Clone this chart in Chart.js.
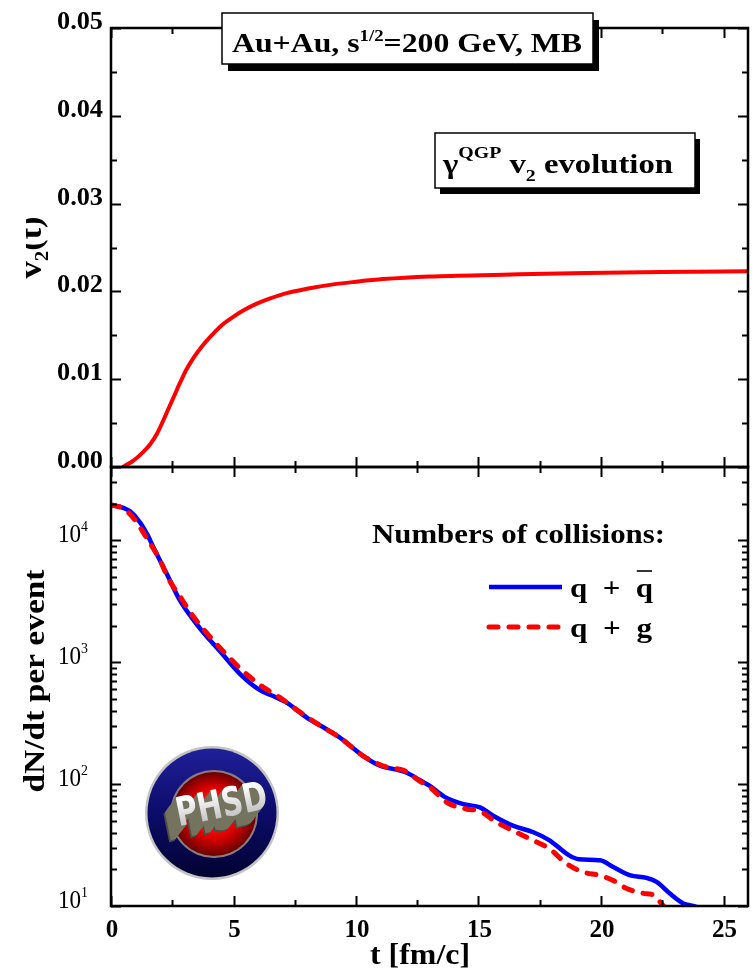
<!DOCTYPE html>
<html><head><meta charset="utf-8">
<script src="https://cdn.jsdelivr.net/npm/chart.js@4/dist/chart.umd.min.js"></script>
<style>
html,body{margin:0;padding:0;background:#fff;}
#wrap{position:relative;width:756px;height:972px;overflow:hidden;}
canvas{position:absolute;left:0;top:0;}
</style></head><body>
<div id="wrap"><canvas id="cTop" width="756" height="972"></canvas><canvas id="cBot" width="756" height="972"></canvas></div>
<script>
// ---------- data ----------
const tV2 = [0.48, 0.9, 1.31, 1.6, 1.86, 2.1, 2.34, 2.58, 2.82, 3.08, 3.36, 3.7, 4.04, 4.5, 4.99, 5.45, 5.95, 6.5, 7.17, 8.0, 9.07, 10.0, 11.1, 13.0, 16.0, 19.4, 22.5, 26.0];
const v2  = [0, 0.0007, 0.0017, 0.0026, 0.0037, 0.0051, 0.0066, 0.0081, 0.0096, 0.0111, 0.0124, 0.0137, 0.0148, 0.0161, 0.0171, 0.0179, 0.0186, 0.0192, 0.0198, 0.0203, 0.0208, 0.0211, 0.0214, 0.0217, 0.0219, 0.0221, 0.0222, 0.0223];

const tQQ = [0, 0.5, 0.78, 1.18, 1.5, 1.73, 2.27, 2.82, 3.63, 4.45, 5.27, 6.08, 6.62, 7.17, 7.99, 8.8, 9.35, 10.3, 11.0, 11.6, 12.07, 12.6, 13.0, 13.6, 14.38, 15.06, 15.6, 16.4, 17.24, 17.9, 18.7, 19.1, 19.96, 20.5, 21.2, 21.86, 22.27, 22.8, 23.36, 23.77, 24.3];
const nQQ = [19500, 18500, 17300, 14100, 11000, 8800, 5350, 3200, 1900, 1230, 800, 590, 528, 466, 352, 282, 240, 170, 141, 132, 124, 108, 97, 79, 68.5, 64.5, 55, 45.6, 40.3, 34.6, 26, 24.2, 23.7, 20.9, 17.8, 17.0, 15.8, 12.7, 10.5, 10, 9.3];

const tQG = [0, 0.5, 0.91, 1.52, 2.0, 2.34, 2.82, 3.36, 3.97, 4.65, 5.4, 6.15, 6.9, 7.65, 8.46, 9.35, 10.3, 11.25, 11.94, 12.6, 13.0, 13.7, 14.5, 15.06, 15.74, 16.4, 17.24, 17.9, 18.6, 19.27, 19.96, 20.5, 21.05, 21.73, 22.14, 22.55, 22.9];
const nQG = [19500, 18300, 15300, 10000, 6870, 4880, 3450, 2370, 1680, 1190, 843, 637, 512, 398, 309, 240, 170, 138, 130, 106, 95, 71, 62.5, 60, 48.5, 41.6, 34.5, 29.5, 22.2, 19, 17.8, 16.2, 13.9, 12.7, 12.3, 10, 8.5];

const seriesLabels = ['q + q\u0304', 'q + g'];

const xMajorTicks = [0, 5, 10, 15, 20, 25];
const xTickLabels = ['0', '5', '10', '15', '20', '25'];
const xMinorTicks = [2.5, 7.5, 12.5, 17.5, 22.5];
const v2MajorTicks = [0, 0.01, 0.02, 0.03, 0.04, 0.05];
const v2TickLabels = ['0.00', '0.01', '0.02', '0.03', '0.04', '0.05'];
const v2MinorTicks = [0.005, 0.015, 0.025, 0.035, 0.045];
const logMajorTicks = [10, 100, 1000, 10000];
const logTickExponents = ['1', '2', '3', '4'];
const logMinorTicks = [20,30,40,50,60,70,80,90,200,300,400,500,600,700,800,900,2000,3000,4000,5000,6000,7000,8000,9000,20000,30000];

// ---------- helpers ----------
const SERIF = '"Liberation Serif","Times New Roman",serif';
const B = s => 'bold ' + s + 'px ' + SERIF;
const R = s => s + 'px ' + SERIF;

// draws mixed-size text; optional targetW stretches horizontally to that width
function rich(ctx, parts, x, y, align, targetW) {
  let w = 0;
  parts.forEach(p => { ctx.font = p.f; p.w = ctx.measureText(p.t).width; w += p.w; });
  const sx = targetW ? targetW / w : 1;
  const W = w * sx;
  const x0 = align === 'center' ? x - W / 2 : align === 'right' ? x - W : x;
  ctx.save();
  ctx.translate(x0, y);
  ctx.scale(sx, 1);
  ctx.textAlign = 'left';
  let cx = 0;
  parts.forEach(p => { ctx.font = p.f; ctx.fillText(p.t, cx, p.dy || 0); p.x = x0 + cx * sx; p.sw = p.w * sx; cx += p.w; });
  ctx.restore();
  return W;
}

function frameAndTicks(chart, xMaj, xMin, yMaj, yMin) {
  const {ctx, chartArea: a, scales: {x, y}} = chart;
  ctx.save();
  ctx.strokeStyle = '#000';
  ctx.lineWidth = 2;
  ctx.beginPath();
  const xt = (vals, len) => vals.forEach(v => {
    const p = Math.round(x.getPixelForValue(v)) + 0.5;
    ctx.moveTo(p, a.bottom); ctx.lineTo(p, a.bottom - len);
    ctx.moveTo(p, a.top); ctx.lineTo(p, a.top + len);
  });
  const yt = (vals, len) => vals.forEach(v => {
    const p = Math.round(y.getPixelForValue(v)) + 0.5;
    ctx.moveTo(a.left, p); ctx.lineTo(a.left + len, p);
    ctx.moveTo(a.right, p); ctx.lineTo(a.right - len, p);
  });
  xt(xMaj, 10); xt(xMin, 6); yt(yMaj, 10); yt(yMin, 6);
  ctx.stroke();
  ctx.lineWidth = 2.5;
  ctx.strokeRect(a.left, a.top, a.right - a.left, a.bottom - a.top);
  ctx.restore();
}

function shadowBox(ctx, x, y, w, h, dx, dy) {
  ctx.fillStyle = '#000';
  ctx.fillRect(x + dx, y + dy, w, h);
  ctx.fillStyle = '#fff';
  ctx.fillRect(x, y, w, h);
  ctx.strokeStyle = '#000';
  ctx.lineWidth = 1.5;
  ctx.strokeRect(x, y, w, h);
}

function drawLogo(ctx, cx, cy) {
  ctx.save();
  ctx.beginPath(); ctx.arc(cx, cy, 67, 0, Math.PI * 2); ctx.fillStyle = '#c4c4c4'; ctx.fill();
  let g = ctx.createLinearGradient(cx, cy - 65, cx, cy + 65);
  g.addColorStop(0, '#20209a'); g.addColorStop(0.5, '#0c0c6a'); g.addColorStop(1, '#020230');
  ctx.beginPath(); ctx.arc(cx, cy, 64.5, 0, Math.PI * 2); ctx.fillStyle = g; ctx.fill();
  ctx.beginPath(); ctx.arc(cx + 2, cy + 1, 44, 0, Math.PI * 2); ctx.fillStyle = '#8c7c80'; ctx.fill();
  g = ctx.createRadialGradient(cx + 2, cy - 2, 4, cx + 2, cy + 1, 42);
  g.addColorStop(0, '#ff3030'); g.addColorStop(0.55, '#e00000'); g.addColorStop(1, '#6a0000');
  ctx.beginPath(); ctx.arc(cx + 2, cy + 1, 42, 0, Math.PI * 2); ctx.fillStyle = g; ctx.fill();
  ctx.translate(cx + 10, cy - 6);
  ctx.rotate(-0.2);
  ctx.scale(0.74, 1);
  ctx.font = 'bold 40px "DejaVu Sans"';
  ctx.textAlign = 'center'; ctx.textBaseline = 'middle';
  for (let k = 16; k >= 1; k--) { ctx.fillStyle = k > 14 ? '#4e4e44' : '#74745f'; ctx.fillText('PHSD', -k * 1.3, k * 0.85); }
  g = ctx.createLinearGradient(0, -16, 0, 16); g.addColorStop(0, '#ffffff'); g.addColorStop(1, '#b8b8b8');
  ctx.fillStyle = g; ctx.fillText('PHSD', 0, 0);
  ctx.restore();
}

// ---------- top panel ----------
const topPlugin = {
  id: 'topDeco',
  afterDatasetsDraw(chart) {
    const {ctx, chartArea: a, scales: {y}} = chart;
    frameAndTicks(chart, xMajorTicks, xMinorTicks, v2MajorTicks, v2MinorTicks);
    ctx.save();
    ctx.fillStyle = '#000';
    ctx.textBaseline = 'alphabetic';
    v2MajorTicks.forEach((v, i) => rich(ctx, [{t: v2TickLabels[i], f: B(25)}], a.left - 8, y.getPixelForValue(v) + 1, 'right', 46));
    // y title (partially hidden as in the reference)
    ctx.save();
    ctx.beginPath(); ctx.rect(26, a.top, 60, a.bottom - a.top); ctx.clip();
    ctx.translate(41, (a.top + a.bottom) / 2);
    ctx.rotate(-Math.PI / 2);
    ctx.fillStyle = '#000';
    rich(ctx, [{t: 'v', f: B(31)}, {t: '2', f: B(19), dy: 7}, {t: '(t)', f: B(31)}], 0, 0, 'center', 62);
    ctx.restore();
    // annotation boxes
    shadowBox(ctx, 222, 13, 371, 51, 6, 7);
    ctx.fillStyle = '#000';
    rich(ctx, [{t: 'Au+Au, s', f: B(27)}, {t: '1/2', f: B(16), dy: -11}, {t: '=200 GeV, MB', f: B(27)}], 407, 52, 'center', 350);
    shadowBox(ctx, 435, 133, 260, 55, 5, 6);
    ctx.fillStyle = '#000';
    rich(ctx, [{t: '\u03B3', f: B(28)}, {t: 'QGP', f: B(17), dy: -15}, {t: ' v', f: B(28)}, {t: '2', f: B(17), dy: 8}, {t: ' evolution', f: B(28)}], 443, 173, 'left', 230);
    ctx.restore();
  }
};

new Chart(document.getElementById('cTop'), {
  type: 'line',
  data: {
    datasets: [{
      label: 'v2(t)',
      data: tV2.map((t, i) => ({x: t, y: v2[i]})),
      borderColor: '#ff0000', borderWidth: 4, pointRadius: 0, fill: false,
      cubicInterpolationMode: 'monotone'
    }]
  },
  options: {
    responsive: false, animation: false, devicePixelRatio: 1,
    layout: {padding: {left: 111, right: 8, top: 28, bottom: 505}},
    plugins: {legend: {display: false}, tooltip: {enabled: false}},
    scales: {
      x: {type: 'linear', min: 0, max: 26, display: false},
      y: {type: 'linear', min: 0, max: 0.05, display: false}
    }
  },
  plugins: [topPlugin]
});

// ---------- bottom panel ----------
const botPlugin = {
  id: 'botDeco',
  afterDatasetsDraw(chart) {
    const {ctx, chartArea: a, scales: {x, y}} = chart;
    frameAndTicks(chart, xMajorTicks, xMinorTicks, logMajorTicks, logMinorTicks);
    ctx.save();
    ctx.fillStyle = '#000';
    ctx.textBaseline = 'alphabetic';
    // x tick labels
    xMajorTicks.forEach((v, i) => rich(ctx, [{t: xTickLabels[i], f: B(25)}], x.getPixelForValue(v) + 1, 937, 'center'));
    // log tick labels
    logMajorTicks.forEach((v, i) => {
      rich(ctx, [{t: '10', f: R(25)}, {t: logTickExponents[i], f: R(15), dy: -11}], a.left - 23, y.getPixelForValue(v) + 2, 'right', 30);
    });
    // axis titles
    rich(ctx, [{t: 't [fm/c]', f: B(30)}], 420, 964, 'center', 100);
    ctx.save();
    ctx.translate(44, 681);
    ctx.rotate(-Math.PI / 2);
    rich(ctx, [{t: 'dN/dt per event', f: B(30)}], 0, 0, 'center', 223);
    ctx.restore();
    // legend
    rich(ctx, [{t: 'Numbers of collisions:', f: B(27)}], 372, 543, 'left', 293);
    const ds = chart.data.datasets;
    const rows = [{d: ds[1], y: 587}, {d: ds[0], y: 627}];
    rows.forEach(r => {
      ctx.save();
      ctx.strokeStyle = r.d.borderColor;
      ctx.lineWidth = r.d.borderWidth;
      ctx.lineCap = r.d.borderCapStyle || 'butt';
      ctx.setLineDash(r.d.borderDash || []);
      ctx.beginPath(); ctx.moveTo(489, r.y); ctx.lineTo(562, r.y); ctx.stroke();
      ctx.restore();
    });
    ctx.fillStyle = '#000';
    const p1 = [{t: 'q', f: B(28)}, {t: '  +  ', f: B(28)}, {t: 'q', f: B(28)}];
    rich(ctx, p1, 570, 597, 'left', 83);
    ctx.lineWidth = 1.6; ctx.strokeStyle = '#000';
    ctx.beginPath(); ctx.moveTo(p1[2].x + 1, 571); ctx.lineTo(p1[2].x + p1[2].sw - 1, 571); ctx.stroke();
    rich(ctx, [{t: 'q', f: B(28)}, {t: '  +  ', f: B(28)}, {t: 'g', f: B(28)}], 570, 637, 'left', 82);
    drawLogo(ctx, 212, 813);
    ctx.restore();
  }
};

new Chart(document.getElementById('cBot'), {
  type: 'line',
  data: {
    datasets: [
      {
        label: seriesLabels[1],
        data: tQG.map((t, i) => ({x: t, y: nQG[i]})),
        borderColor: '#ff0000', borderWidth: 5, borderDash: [9, 11], borderCapStyle: 'round',
        pointRadius: 0, fill: false, cubicInterpolationMode: 'monotone', order: 0
      },
      {
        label: seriesLabels[0],
        data: tQQ.map((t, i) => ({x: t, y: nQQ[i]})),
        borderColor: '#0000ff', borderWidth: 4.5,
        pointRadius: 0, fill: false, cubicInterpolationMode: 'monotone', order: 1
      }
    ]
  },
  options: {
    responsive: false, animation: false, devicePixelRatio: 1,
    layout: {padding: {left: 111, right: 8, top: 467, bottom: 66}},
    plugins: {legend: {display: false}, tooltip: {enabled: false}},
    scales: {
      x: {type: 'linear', min: 0, max: 26, display: false},
      y: {type: 'logarithmic', min: 10, max: 40000, display: false}
    }
  },
  plugins: [botPlugin]
});
</script>
</body></html>
